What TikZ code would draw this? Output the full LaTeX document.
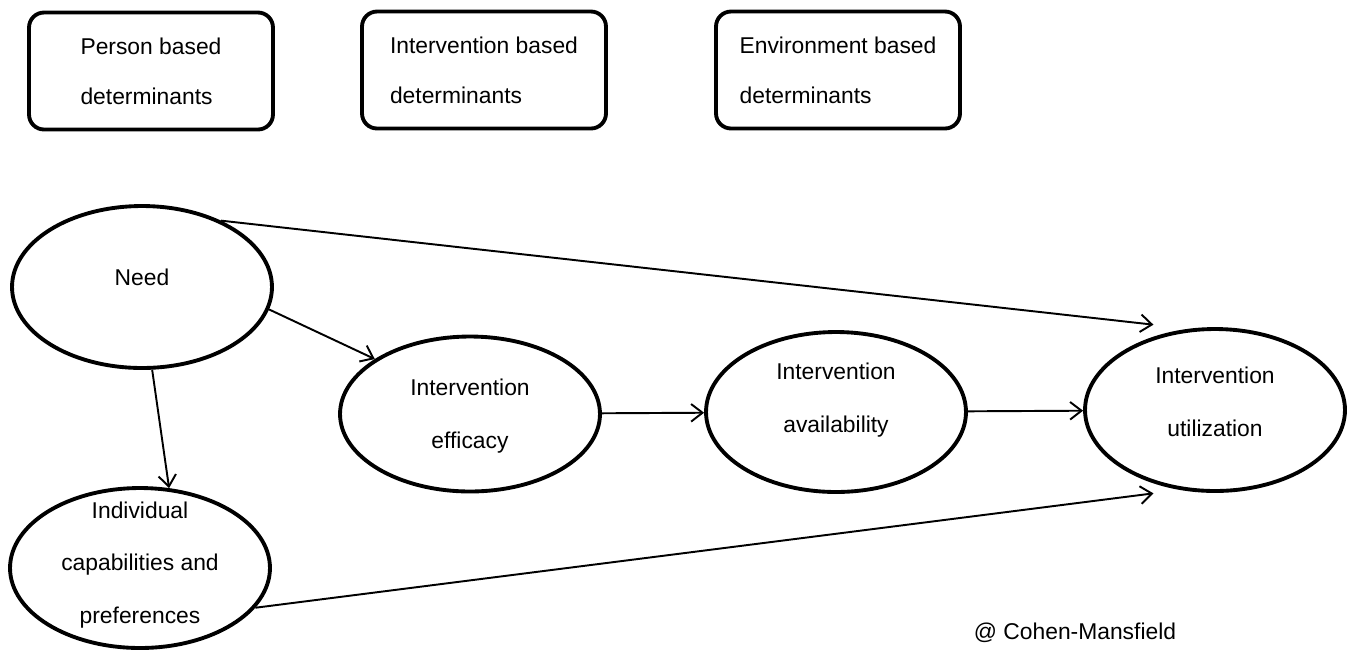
\documentclass[tikz,border=0pt]{standalone}
\usepackage{fontspec}
\setmainfont{Liberation Sans}
\usetikzlibrary{arrows.meta,shapes.geometric}

\tikzset{
  detbox/.style={draw, line width=2.2pt, rounded corners=0.3cm, minimum width=4.88cm, minimum height=2.34cm, align=left, font=\fontsize{13}{28.5}\selectfont},
  oval/.style={draw, ellipse, line width=2.2pt, minimum width=5.2cm, minimum height=3.2cm, inner sep=0pt},
  ovaltext/.style={align=center, font=\fontsize{13}{30}\selectfont, inner sep=0pt},
  link/.style={line width=1.1pt, -{Straight Barb[length=6.5pt,width=10pt]}}
}

\begin{document}
\begin{tikzpicture}[x=0.02cm,y=-0.02cm]
\useasboundingbox (0,0) rectangle (1352,654);

% determinant boxes
\node[detbox] (person) at (151,71) {Person based\\determinants};
\node[detbox] (interv) at (484,70) {Intervention based\\determinants};
\node[detbox] (environ) at (838,70) {Environment based\\determinants};

% model
\node[oval, minimum height=3.24cm, label={[ovaltext,yshift=0.2cm]center:Need}] (need) at (142,287) {};
\node[oval, minimum height=3.1cm, label={[ovaltext,yshift=-0.04cm]center:{Intervention\\efficacy}}] (eff) at (470,414) {};
\node[oval, label={[ovaltext,yshift=0.24cm]center:{Intervention\\availability}}] (avail) at (836,412) {};
\node[oval, minimum height=3.24cm, label={[ovaltext,yshift=0.17cm]center:{Intervention\\utilization}}] (util) at (1215,410) {};
\node[oval, label={[ovaltext,yshift=0.06cm]center:{Individual\\capabilities and\\preferences}}] (indiv) at (140,568) {};

\node[font=\fontsize{13}{16}\selectfont] (credit) at (1075,633) {@ Cohen-Mansfield};

\draw[link] (need.40) -- ([yshift=0.24cm]util.130);
\draw[link] (need.-10) -- (eff.150);
\draw[link] (need.-83) -- (indiv.70);
\draw[link] (eff) -- (avail);
\draw[link] (avail) -- (util);
\draw[link] (indiv.-19) -- ([yshift=-0.2cm]util.-130);

\end{tikzpicture}
\end{document}
